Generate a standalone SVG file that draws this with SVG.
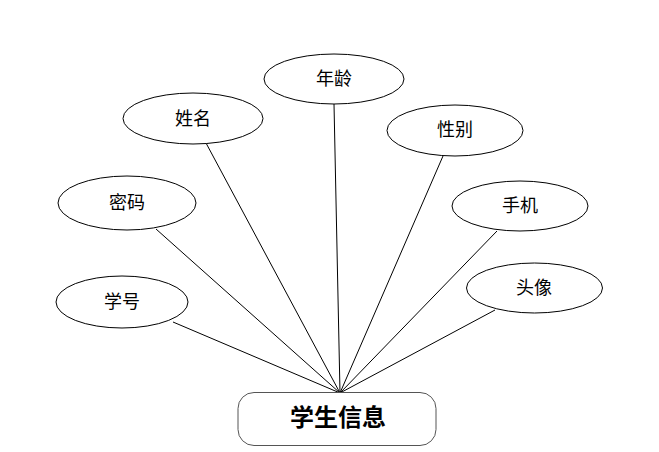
<svg xmlns="http://www.w3.org/2000/svg" width="659" height="452" viewBox="0 0 659 452">
<style>
.e{fill:#fff;stroke:#000;stroke-width:1}
.t{font-family:"Liberation Serif","Noto Sans CJK SC",serif;font-size:18px;fill:#000;text-anchor:middle;dominant-baseline:central}
.c line{stroke:#000;stroke-width:1}
.b{fill:#fff;stroke:#555;stroke-width:1}
.bt{font-family:"Liberation Serif","Noto Sans CJK SC",serif;font-size:24px;font-weight:bold;fill:#000;text-anchor:middle;dominant-baseline:central}
</style>
<rect width="659" height="452" fill="#fff"/>
<g class="c" id="connectors">
<line x1="334" y1="104" x2="340" y2="393"/>
<line x1="206" y1="143" x2="340" y2="393"/>
<line x1="156" y1="229" x2="340" y2="393"/>
<line x1="173" y1="322" x2="340" y2="393"/>
<line x1="443" y1="156" x2="340" y2="393"/>
<line x1="497" y1="231" x2="340" y2="393"/>
<line x1="495" y1="310" x2="340" y2="393"/>
</g>
<g id="nianling"><ellipse class="e" cx="334" cy="79" rx="70" ry="25"/><text class="t" x="334" y="79">年龄</text></g>
<g id="xingming"><ellipse class="e" cx="193" cy="118.5" rx="70" ry="25.5"/><text class="t" x="193" y="119">姓名</text></g>
<g id="xingbie"><ellipse class="e" cx="455" cy="130.5" rx="68" ry="25.5"/><text class="t" x="455" y="130">性别</text></g>
<g id="shouji"><ellipse class="e" cx="520" cy="206" rx="68" ry="25"/><text class="t" x="520" y="206">手机</text></g>
<g id="touxiang"><ellipse class="e" cx="534.5" cy="288" rx="68" ry="25"/><text class="t" x="534" y="288">头像</text></g>
<g id="mima"><ellipse class="e" cx="127" cy="203" rx="69" ry="27"/><text class="t" x="127" y="203">密码</text></g>
<g id="xuehao"><ellipse class="e" cx="122" cy="302" rx="66" ry="26"/><text class="t" x="122" y="302">学号</text></g>
<g id="xueshengxinxi"><rect class="b" x="238" y="392.5" width="198" height="53" rx="16" ry="16"/><text class="bt" x="338" y="418">学生信息</text></g>
</svg>
